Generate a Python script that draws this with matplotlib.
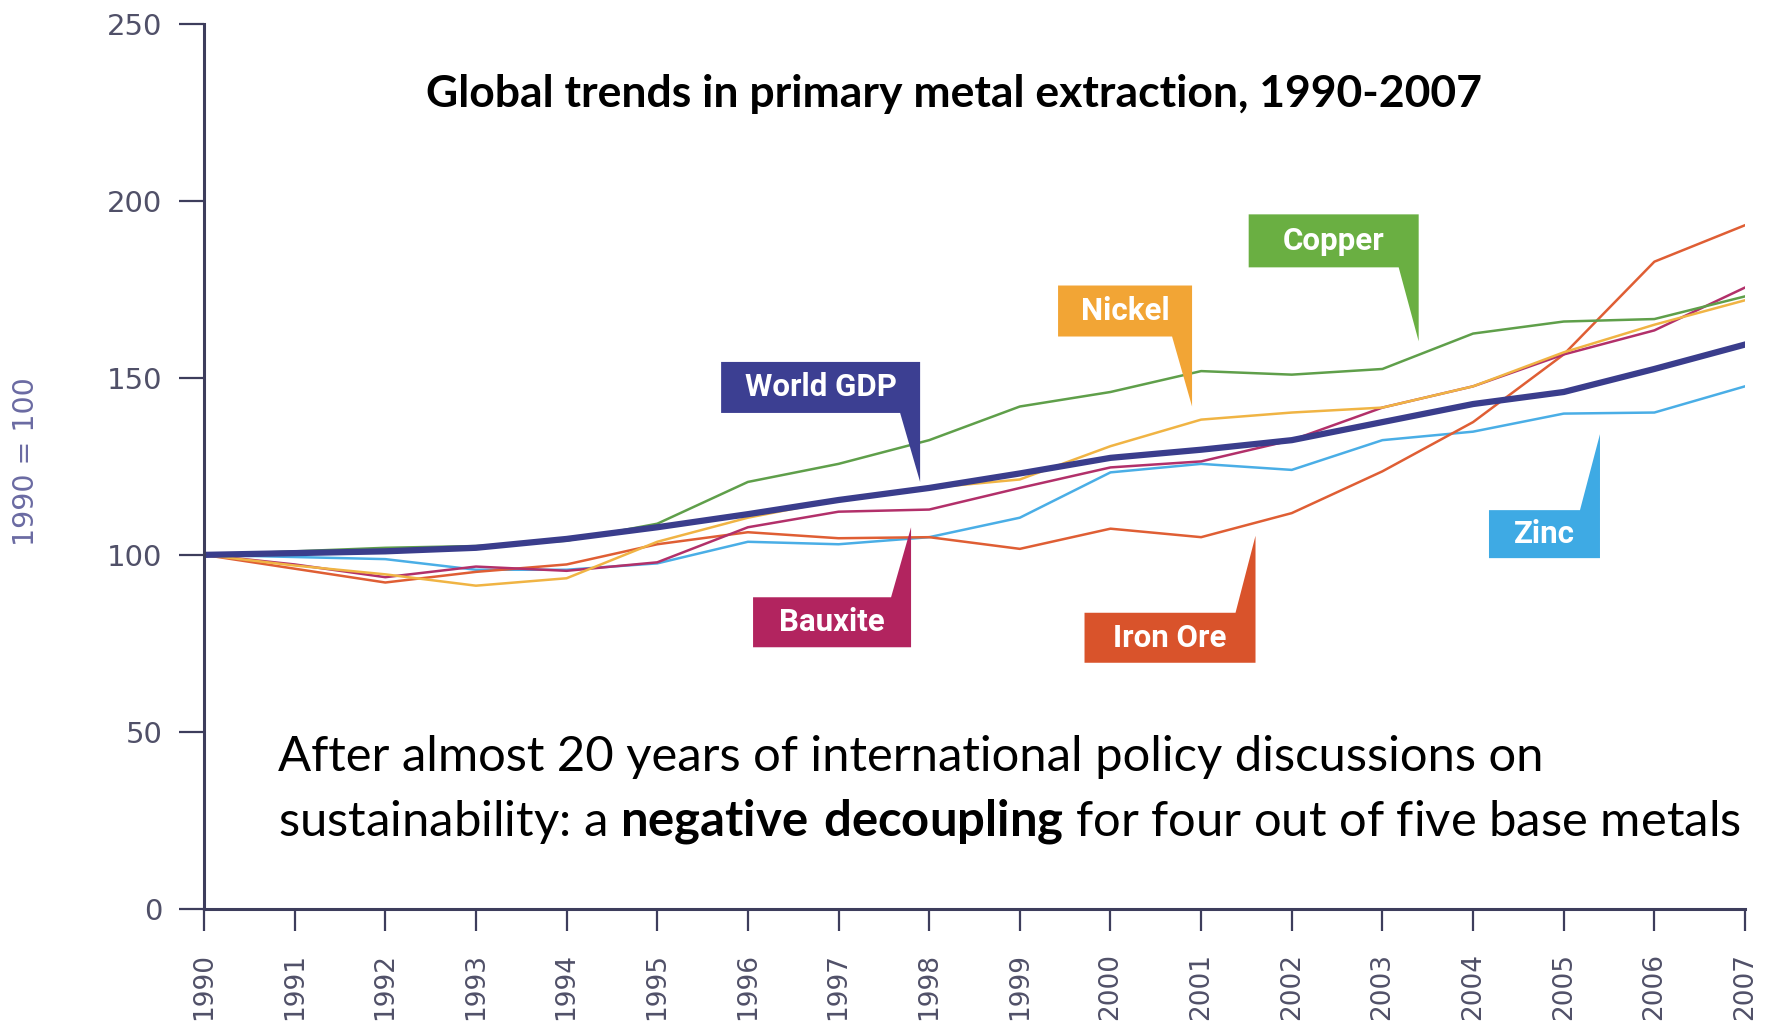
import matplotlib
matplotlib.use("Agg")
import matplotlib.pyplot as plt
import matplotlib.transforms as mtransforms
from matplotlib.patches import Polygon

plt.rcParams["font.family"] = ["Lato", "DejaVu Sans"]
plt.rcParams["mathtext.fontset"] = "custom"
plt.rcParams["mathtext.rm"] = "Lato"
plt.rcParams["mathtext.bf"] = "Lato:bold"

# index values, 1990 = 100
years = list(range(1990, 2008))
year_labels = [str(y) for y in years]
y_ticks = [0, 50, 100, 150, 200, 250]

world_gdp = [100, 100.5, 101, 102, 104.5, 107.8, 111.5, 115.5, 118.9, 123,
             127.4, 129.7, 132.4, 137.5, 142.6, 146, 152.5, 159.4]
copper = [100, 101, 102, 102.5, 104, 108.8, 120.6, 125.7, 132.4, 141.9,
          146, 151.9, 150.9, 152.5, 162.5, 165.9, 166.6, 173]
nickel = [100, 97, 94.5, 91.3, 93.4, 103.7, 110.5, 115.5, 118.9, 121.3,
          130.7, 138.2, 140.2, 141.6, 147.6, 157.2, 165, 171.9]
iron_ore = [100, 96.1, 92.2, 95.2, 97.3, 103, 106.4, 104.7, 105, 101.7,
            107.4, 105, 111.8, 123.6, 137.5, 156.6, 182.8, 193.1]
zinc = [100, 99.4, 98.8, 95.8, 95.8, 97.6, 103.7, 103, 105, 110.5,
        123.3, 125.7, 124, 132.4, 134.8, 139.9, 140.2, 147.6]
bauxite = [100, 97.3, 93.7, 96.7, 95.5, 97.9, 107.8, 112.2, 112.8, 118.9,
           124.7, 126.4, 132.4, 141.6, 147.6, 156.6, 163.4, 175.5]

# callout labels: name, colour, pointer tip (year, index), box w/h and stem length in px
callouts = [
    ("World GDP", "#3c3f92", (1997.9, 120.6), 199, 51, 69, "down"),
    ("Nickel", "#f2a535", (2000.9, 141.9), 134, 51, 70, "down"),
    ("Copper", "#6aaf42", (2003.4, 160.3), 170, 53, 74, "down"),
    ("Zinc", "#3eaae4", (2005.4, 134.1), 111, 48, 76, "up"),
    ("Bauxite", "#b2245f", (1997.8, 107.8), 158, 50, 70, "up"),
    ("Iron Ore", "#d9532b", (2001.6, 105.4), 171, 50, 77, "up"),
]

fig = plt.figure(figsize=(17.77, 10.36), dpi=100)
ax = fig.add_axes([0.1148, 0.1226, 0.8672, 0.8545])

ax.plot(years, zinc, color="#4aaee6", lw=1.8)
ax.plot(years, iron_ore, color="#df5e34", lw=1.8)
ax.plot(years, bauxite, color="#b2306a", lw=1.8)
ax.plot(years, nickel, color="#f0b444", lw=1.8)
ax.plot(years, copper, color="#5f9f4a", lw=1.8)
ax.plot(years, world_gdp, color="#3a3d8c", lw=4.5)

ax.set_xlim(1990, 2007)
ax.set_ylim(0, 250)
ax.set_xticks(years)
ax.set_xticklabels(year_labels, rotation=90, va="top")
ax.set_yticks(y_ticks)
for side in ("top", "right"):
    ax.spines[side].set_visible(False)
for side in ("left", "bottom"):
    ax.spines[side].set_color("#3d3d5c")
    ax.spines[side].set_linewidth(2.2)
ax.tick_params(axis="y", length=18, width=1.6, color="#3d3d5c", pad=12,
               labelsize=21, labelcolor="#505068")
ax.tick_params(axis="x", length=16, width=1.6, color="#3d3d5c", pad=16,
               labelsize=19, labelcolor="#505068")
for lab in ax.get_xticklabels() + ax.get_yticklabels():
    lab.set_family("DejaVu Sans")
ax.patch.set_visible(False)

fig.text(26 / 1777, 0.554, "1990 = 100", rotation=90, ha="center", va="center",
         fontsize=20.5, color="#6a6aa2", family="DejaVu Sans")

# callout boxes with a wedge pointing at the line
wb = 20
for name, col, (tx, ty), w, h, stem, direction in callouts:
    trans = mtransforms.ScaledTranslation(tx, ty, ax.transData)
    s = 1 if direction == "down" else -1
    verts = [(-w, s * (stem + h)), (0, s * (stem + h)), (0, 0),
             (-wb, s * stem), (-w, s * stem)]
    ax.add_patch(Polygon(verts, closed=True, facecolor=col, edgecolor="none",
                         transform=trans, clip_on=False, zorder=5))
    ax.text(-w / 2, s * (stem + h / 2), name, transform=trans, ha="center",
            va="center", color="white", fontsize=22.5, fontweight="bold",
            family="Roboto", zorder=6)

fig.text(954 / 1777, (1036 - 107) / 1036,
         "Global trends in primary metal extraction, 1990-2007",
         ha="center", va="baseline", fontsize=32, fontweight="bold", color="black")

fig.text(278 / 1777, (1036 - 771) / 1036,
         "After almost 20 years of international policy discussions on",
         ha="left", va="baseline", fontsize=35.3, color="black")
fig.text(278 / 1777, (1036 - 836) / 1036,
         r"sustainability: a $\mathbf{negative\ decoupling}$ for four out of five base metals",
         ha="left", va="baseline", fontsize=35.3, color="black")

fig.savefig("out.png", dpi=100)
